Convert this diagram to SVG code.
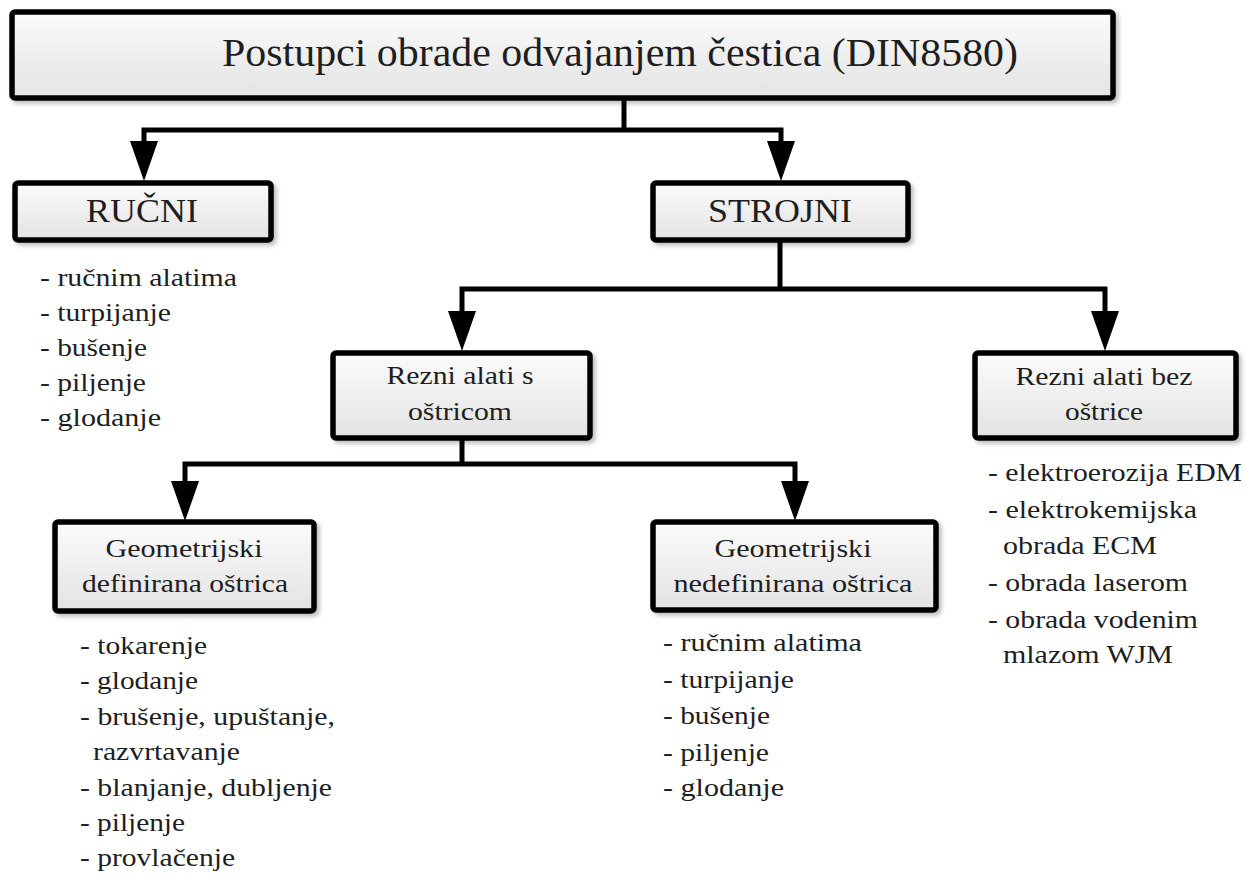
<svg xmlns="http://www.w3.org/2000/svg" xmlns:xlink="http://www.w3.org/1999/xlink" width="1247" height="877" viewBox="0 0 1247 877" font-family="Liberation Serif, Times New Roman, serif">
<style>
  .box{fill:url(#bg);stroke:#000;stroke-width:5.5;filter:url(#sh)}
  text{font-family:'Liberation Serif',serif;fill:#1e1e1e}
  .lbl{font-size:25px;text-anchor:middle}
  .big{font-size:33px;text-anchor:middle}
  .ttl{font-size:40px}
  .li{font-size:25px}
  .conn{fill:none;stroke:#000;stroke-width:5}
</style>
<defs>
  <linearGradient id="bg" x1="0" y1="0" x2="0" y2="1">
    <stop offset="0" stop-color="#fbfbfb"/>
    <stop offset="1" stop-color="#e3e3e3"/>
  </linearGradient>
  <filter id="sh" x="-5%" y="-10%" width="115%" height="130%">
    <feDropShadow dx="3" dy="3" stdDeviation="2" flood-color="#000" flood-opacity="0.25"/>
  </filter>
  <path id="ah" d="M-14,-40 L14,-40 L0,0 Z" fill="#000"/>
</defs>
<rect width="1247" height="877" fill="#fff"/>

<g id="connectors">
  <path class="conn" d="M624,98 V130 H144 V145 M624,130 H781 V145"/>
  <path class="conn" d="M780,240 V289 H462 V315 M780,289 H1105 V315"/>
  <path class="conn" d="M462,438 V464 H185 V485 M462,464 H795 V485"/>
  <use xlink:href="#ah" x="144" y="181"/>
  <use xlink:href="#ah" x="781" y="181"/>
  <use xlink:href="#ah" x="462" y="351"/>
  <use xlink:href="#ah" x="1105" y="351"/>
  <use xlink:href="#ah" x="185" y="521"/>
  <use xlink:href="#ah" x="795" y="521"/>
</g>

<g id="node-root">
  <rect class="box" x="12" y="12" width="1101" height="86" rx="3"/>
  <text class="ttl" x="222" y="66" textLength="796" lengthAdjust="spacingAndGlyphs">Postupci obrade odvajanjem čestica (DIN8580)</text>
</g>

<g id="node-rucni">
  <rect class="box" x="15" y="183" width="256" height="57" rx="3"/>
  <text class="big" x="142" y="222" textLength="112" lengthAdjust="spacingAndGlyphs">RUČNI</text>
</g>

<g id="list-rucni" class="li">
  <text x="40" y="286" textLength="197" lengthAdjust="spacingAndGlyphs">- ručnim alatima</text>
  <text x="40" y="321" textLength="131" lengthAdjust="spacingAndGlyphs">- turpijanje</text>
  <text x="40" y="356" textLength="107" lengthAdjust="spacingAndGlyphs">- bušenje</text>
  <text x="40" y="391" textLength="106" lengthAdjust="spacingAndGlyphs">- piljenje</text>
  <text x="40" y="426" textLength="121" lengthAdjust="spacingAndGlyphs">- glodanje</text>
</g>

<g id="node-strojni">
  <rect class="box" x="653" y="183" width="255" height="57" rx="3"/>
  <text class="big" x="780" y="222" textLength="144" lengthAdjust="spacingAndGlyphs">STROJNI</text>
</g>

<g id="node-rezni-s">
  <rect class="box" x="333" y="353" width="257" height="85" rx="3"/>
  <text class="lbl" x="460" y="384" textLength="147" lengthAdjust="spacingAndGlyphs">Rezni alati s</text>
  <text class="lbl" x="460" y="420" textLength="104" lengthAdjust="spacingAndGlyphs">oštricom</text>
</g>

<g id="node-rezni-bez">
  <rect class="box" x="975" y="353" width="261" height="85" rx="3"/>
  <text class="lbl" x="1104" y="385" textLength="177" lengthAdjust="spacingAndGlyphs">Rezni alati bez</text>
  <text class="lbl" x="1104" y="420" textLength="78" lengthAdjust="spacingAndGlyphs">oštrice</text>
</g>

<g id="list-rezni-bez" class="li">
  <text x="988" y="481" textLength="254" lengthAdjust="spacingAndGlyphs">- elektroerozija EDM</text>
  <text x="988" y="518" textLength="209" lengthAdjust="spacingAndGlyphs">- elektrokemijska</text>
  <text x="1003" y="554" textLength="154" lengthAdjust="spacingAndGlyphs">obrada ECM</text>
  <text x="988" y="591" textLength="200" lengthAdjust="spacingAndGlyphs">- obrada laserom</text>
  <text x="988" y="628" textLength="210" lengthAdjust="spacingAndGlyphs">- obrada vodenim</text>
  <text x="1003" y="663" textLength="170" lengthAdjust="spacingAndGlyphs">mlazom WJM</text>
</g>

<g id="node-geo-def">
  <rect class="box" x="55" y="522" width="259" height="89" rx="3"/>
  <text class="lbl" x="184" y="557" textLength="157" lengthAdjust="spacingAndGlyphs">Geometrijski</text>
  <text class="lbl" x="185" y="592" textLength="206" lengthAdjust="spacingAndGlyphs">definirana oštrica</text>
</g>

<g id="list-geo-def" class="li">
  <text x="80" y="654" textLength="127" lengthAdjust="spacingAndGlyphs">- tokarenje</text>
  <text x="80" y="689" textLength="118" lengthAdjust="spacingAndGlyphs">- glodanje</text>
  <text x="80" y="725" textLength="255" lengthAdjust="spacingAndGlyphs">- brušenje, upuštanje,</text>
  <text x="93" y="760" textLength="147" lengthAdjust="spacingAndGlyphs">razvrtavanje</text>
  <text x="80" y="796" textLength="252" lengthAdjust="spacingAndGlyphs">- blanjanje, dubljenje</text>
  <text x="80" y="831" textLength="105" lengthAdjust="spacingAndGlyphs">- piljenje</text>
  <text x="80" y="866" textLength="155" lengthAdjust="spacingAndGlyphs">- provlačenje</text>
</g>

<g id="node-geo-nedef">
  <rect class="box" x="653" y="522" width="283" height="88" rx="3"/>
  <text class="lbl" x="793" y="557" textLength="157" lengthAdjust="spacingAndGlyphs">Geometrijski</text>
  <text class="lbl" x="793" y="592" textLength="239" lengthAdjust="spacingAndGlyphs">nedefinirana oštrica</text>
</g>

<g id="list-geo-nedef" class="li">
  <text x="663" y="651" textLength="199" lengthAdjust="spacingAndGlyphs">- ručnim alatima</text>
  <text x="663" y="688" textLength="131" lengthAdjust="spacingAndGlyphs">- turpijanje</text>
  <text x="663" y="724" textLength="107" lengthAdjust="spacingAndGlyphs">- bušenje</text>
  <text x="663" y="761" textLength="106" lengthAdjust="spacingAndGlyphs">- piljenje</text>
  <text x="663" y="796" textLength="121" lengthAdjust="spacingAndGlyphs">- glodanje</text>
</g>
</svg>
